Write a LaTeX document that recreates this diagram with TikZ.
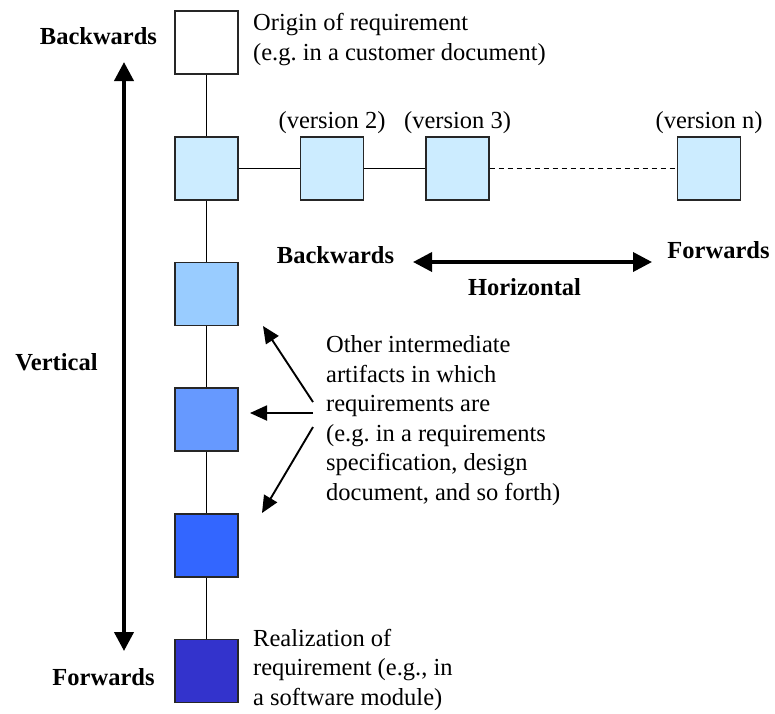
\documentclass[tikz,border=0pt]{standalone}
\usepackage{fontspec}
\setmainfont{Liberation Serif}
\usetikzlibrary{arrows.meta}
\frenchspacing
\definecolor{paleblue}{HTML}{CCECFF}
\definecolor{skyblue}{HTML}{99CCFF}
\definecolor{midblue}{HTML}{6699FF}
\definecolor{brightblue}{HTML}{3366FF}
\definecolor{deepblue}{HTML}{3333CC}
\begin{document}
\begin{tikzpicture}[x=1pt,y=-1pt,
  every node/.style={font=\fontsize{24.5}{29.5}\selectfont},
  artifact/.style={draw=black!85, line width=1.3pt, minimum width=63pt, minimum height=63pt, inner sep=0pt},
  link/.style={line width=1pt, black},
  label/.style={inner sep=0pt, anchor=base west, align=left},
  heading/.style={inner sep=0pt, anchor=base, font=\fontsize{24.5}{29.5}\selectfont\bfseries},
  bigarrow/.style={line width=4pt, {Triangle[length=19pt,width=19pt]}-{Triangle[length=19pt,width=19pt]}},
  hintarrow/.style={line width=1.9pt, -{Triangle[length=17pt,width=15pt]}}
]
\useasboundingbox (0,0) rectangle (775,713);

% vertical chain of artifacts
\node[artifact, fill=white]      (v1) at (206.5,42.5) {};
\node[artifact, fill=paleblue]   (v2) at (206.5,168.5) {};
\node[artifact, fill=skyblue]    (v3) at (206.5,294) {};
\node[artifact, fill=midblue]    (v4) at (206.5,419.5) {};
\node[artifact, fill=brightblue] (v5) at (206.5,545.5) {};
\node[artifact, fill=deepblue]   (v6) at (206.5,671) {};

% horizontal chain of versions
\node[artifact, fill=paleblue] (h2) at (332,168.5) {};
\node[artifact, fill=paleblue] (h3) at (457.5,168.5) {};
\node[artifact, fill=paleblue] (hn) at (709,168.5) {};

\draw[link] (v1) -- (v2);
\draw[link] (v2) -- (v3);
\draw[link] (v3) -- (v4);
\draw[link] (v4) -- (v5);
\draw[link] (v5) -- (v6);
\draw[link] (v2) -- (h2);
\draw[link] (h2) -- (h3);
\draw[link, dash pattern=on 5pt off 4pt] (h3) -- (hn);

% version labels
\node[inner sep=0pt, anchor=base] (l2) at (332,128) {(version 2)};
\node[inner sep=0pt, anchor=base] (l3) at (457.5,128) {(version 3)};
\node[inner sep=0pt, anchor=base] (ln) at (709,128) {(version n)};

% direction arrows
\coordinate (vtop) at (124,62);
\coordinate (vbot) at (124,651);
\draw[bigarrow] (vtop) -- (vbot);
\coordinate (hleft) at (413,262);
\coordinate (hright) at (652,262);
\draw[bigarrow, line width=3.6pt] (hleft) -- (hright);

\node[heading] (vback) at (98.5,44) {Backwards};
\node[heading] (vert)  at (56.5,370) {Vertical};
\node[heading] (vfwd)  at (103.5,685) {Forwards};
\node[heading] (hback) at (335.5,263) {Backwards};
\node[heading] (hfwd)  at (718.5,258) {Forwards};
\node[heading] (horiz) at (524.5,295) {Horizontal};

% descriptions (base anchor sits on the last line)
\node[label] (origin) at (253,60) {Origin of requirement\\(e.g. in a customer document)};
\node[label] (other) at (326,500) {Other intermediate\\artifacts in which\\requirements are\\(e.g. in a requirements\\specification, design\\document, and so forth)};
\node[label] (real) at (253,705) {Realization of\\requirement (e.g., in\\a software module)};

% pointers from the description to the intermediate artifacts
\coordinate (t1) at (313,402);
\coordinate (p1) at (263,326);
\coordinate (t2) at (313,413);
\coordinate (p2) at (250,413);
\coordinate (t3) at (313,427);
\coordinate (p3) at (262,513);
\draw[hintarrow] (t1) -- (p1);
\draw[hintarrow] (t2) -- (p2);
\draw[hintarrow] (t3) -- (p3);
\end{tikzpicture}
\end{document}
